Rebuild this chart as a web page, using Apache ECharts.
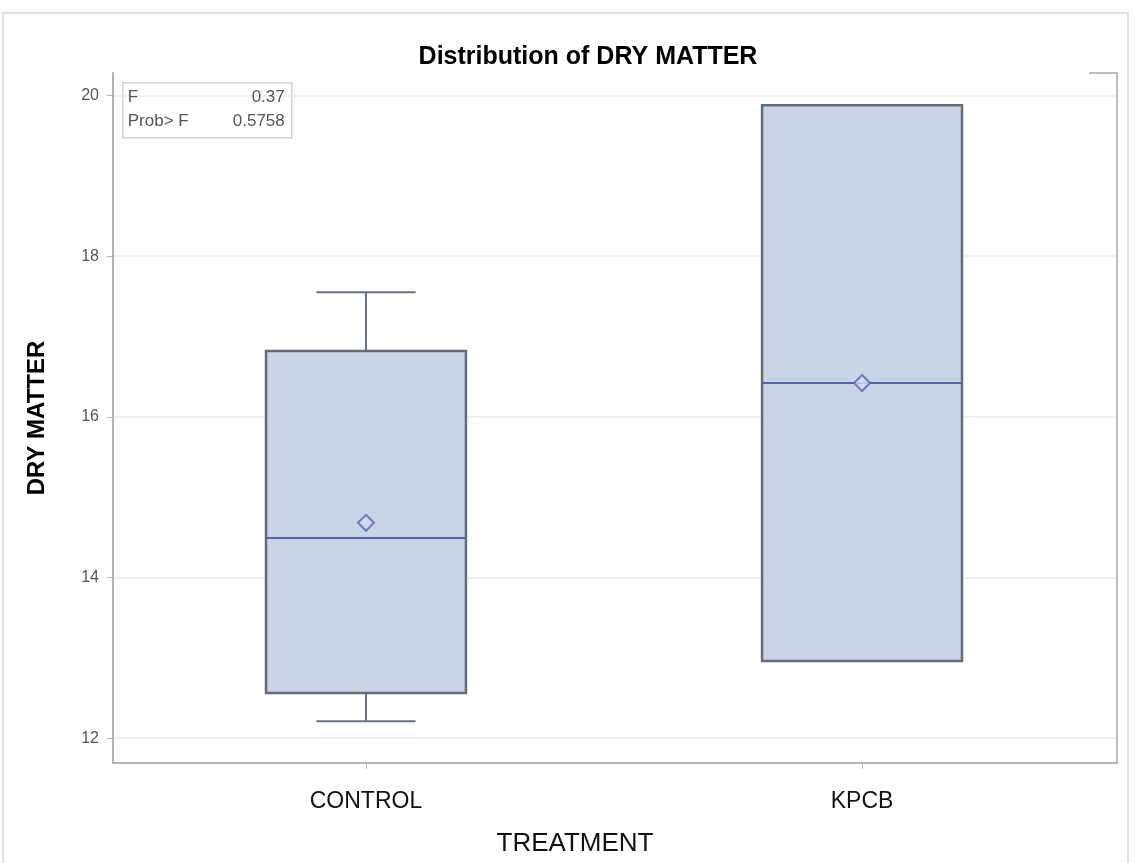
<!DOCTYPE html>
<html>
<head>
<meta charset="utf-8">
<title>Distribution of DRY MATTER</title>
<script src="https://cdn.jsdelivr.net/npm/echarts@6/dist/echarts.min.js"></script>
<style>
  html, body { margin: 0; padding: 0; background: #fff; }
  #chart { width: 1135px; height: 863px; }
</style>
</head>
<body>
<div id="chart"></div>
<script>
// Box plot summary per treatment
const categories = ['CONTROL', 'KPCB'];
const minVals    = [12.21, 12.96];
const q1Vals     = [12.56, 12.96];
const medianVals = [14.49, 16.42];
const q3Vals     = [16.82, 19.88];
const maxVals    = [17.55, 19.88];
const meanVals   = [14.68, 16.42];

// Y axis tick values
const yTicks = [12, 14, 16, 18, 20];

// ANOVA statistics shown in the inset
const fValue = '0.37';
const probValue = '0.5758';

const BOX_WIDTH = 0.403;   // in x-axis units
const CAP_WIDTH = 0.2;

const boxData = categories.map((c, i) =>
  [i + 1, minVals[i], q1Vals[i], medianVals[i], q3Vals[i], maxVals[i]]);
const meanData = categories.map((c, i) => [i + 1, meanVals[i]]);

function renderBox(params, api) {
  const x = api.value(0);
  const lo = api.coord([x, api.value(1)]);
  const q1 = api.coord([x, api.value(2)]);
  const md = api.coord([x, api.value(3)]);
  const q3 = api.coord([x, api.value(4)]);
  const hi = api.coord([x, api.value(5)]);
  const bw = api.size([BOX_WIDTH, 0])[0];
  const cw = api.size([CAP_WIDTH, 0])[0];
  const cx = lo[0];
  const whisker = { stroke: '#66708a', lineWidth: 2 };
  const children = [];
  if (hi[1] < q3[1] - 0.5) {
    children.push({ type: 'line', shape: { x1: cx, y1: q3[1], x2: cx, y2: hi[1] }, style: whisker });
    children.push({ type: 'line', shape: { x1: cx - cw / 2, y1: hi[1], x2: cx + cw / 2, y2: hi[1] }, style: whisker });
  }
  if (lo[1] > q1[1] + 0.5) {
    children.push({ type: 'line', shape: { x1: cx, y1: q1[1], x2: cx, y2: lo[1] }, style: whisker });
    children.push({ type: 'line', shape: { x1: cx - cw / 2, y1: lo[1], x2: cx + cw / 2, y2: lo[1] }, style: whisker });
  }
  children.push({
    type: 'rect',
    shape: { x: cx - bw / 2, y: q3[1], width: bw, height: q1[1] - q3[1] },
    style: { fill: '#c9d5e6', stroke: '#646b78', lineWidth: 2.5 }
  });
  children.push({
    type: 'line',
    shape: { x1: cx - bw / 2, y1: md[1], x2: cx + bw / 2, y2: md[1] },
    style: { stroke: '#5264a8', lineWidth: 2 }
  });
  return { type: 'group', children };
}

const chart = echarts.init(document.getElementById('chart'), null, { renderer: 'canvas' });

const labelFont = 'Liberation Sans Narrow, Liberation Sans, sans-serif';
const insetText = { fontFamily: 'Liberation Sans, sans-serif', fontSize: 17, fill: '#555', verticalAlign: 'top' };

chart.setOption({
  backgroundColor: '#ffffff',
  animation: false,
  title: {
    text: 'Distribution of DRY MATTER',
    left: 583,
    textAlign: 'center',
    top: 40,
    textStyle: {
      fontFamily: labelFont,
      fontWeight: 'bold',
      fontSize: 25,
      color: '#000'
    }
  },
  grid: { left: 113, right: 18, top: 73, bottom: 100, containLabel: false },
  xAxis: {
    type: 'value',
    min: 0.49,
    max: 2.514,
    name: 'TREATMENT',
    nameLocation: 'middle',
    nameGap: 68,
    nameTextStyle: {
      fontFamily: labelFont,
      fontSize: 26,
      color: '#111',
      padding: [0, 80, 0, 0]
    },
    axisLine: { show: true, lineStyle: { color: '#b4b4b4', width: 2 } },
    axisTick: { show: true, customValues: [1, 2], length: 6, lineStyle: { color: '#b4b4b4' } },
    axisLabel: {
      customValues: [1, 2],
      formatter: v => categories[Math.round(v) - 1] || '',
      margin: 27,
      fontFamily: labelFont,
      fontSize: 23,
      color: '#111'
    },
    splitLine: { show: false }
  },
  yAxis: [{
    type: 'value',
    min: 11.69,
    max: 20.28,
    name: 'DRY MATTER',
    nameLocation: 'middle',
    nameGap: 64,
    nameRotate: 90,
    nameTextStyle: {
      fontFamily: labelFont,
      fontWeight: 'bold',
      fontSize: 24,
      color: '#000'
    },
    axisLine: { show: true, lineStyle: { color: '#b4b4b4', width: 2 } },
    axisTick: { show: true, customValues: yTicks, length: 6, lineStyle: { color: '#b4b4b4' } },
    axisLabel: {
      customValues: yTicks,
      margin: 14,
      fontFamily: 'Liberation Sans, sans-serif',
      fontSize: 16,
      color: '#555'
    },
    splitLine: { show: true, lineStyle: { color: '#ececec', width: 1.5 } }
  }, {
    type: 'value',
    position: 'right',
    min: 11.69,
    max: 20.28,
    axisLine: { show: true, lineStyle: { color: '#bdbdbd', width: 2 } },
    axisTick: { show: false },
    axisLabel: { show: false },
    splitLine: { show: false }
  }],
  graphic: [
    // outer frame of the figure
    {
      type: 'rect',
      shape: { x: 3, y: 13, width: 1125, height: 860 },
      style: { fill: 'none', stroke: '#e2e2e2', lineWidth: 2 },
      silent: true
    },
    // stub of the top wall line at the right corner
    {
      type: 'line',
      shape: { x1: 1089, y1: 73, x2: 1117, y2: 73 },
      style: { stroke: '#bdbdbd', lineWidth: 2 },
      silent: true
    },
    // statistics inset
    {
      type: 'group',
      left: 122,
      top: 82,
      z: 100,
      children: [
        { type: 'rect', z2: 0, shape: { x: 0, y: 0, width: 169, height: 55 },
          style: { fill: '#fff', stroke: '#d4d4d4', lineWidth: 1.5 } },
        { type: 'text', z2: 5, x: 5, y: 6,
          style: Object.assign({ text: 'F' }, insetText) },
        { type: 'text', z2: 5, x: 162, y: 6,
          style: Object.assign({ text: fValue, align: 'right' }, insetText) },
        { type: 'text', z2: 5, x: 5, y: 30,
          style: Object.assign({ text: 'Prob> F' }, insetText) },
        { type: 'text', z2: 5, x: 162, y: 30,
          style: Object.assign({ text: probValue, align: 'right' }, insetText) }
      ]
    }
  ],
  series: [
    {
      type: 'custom',
      name: 'box',
      renderItem: renderBox,
      encode: { x: 0, y: [1, 2, 3, 4, 5] },
      data: boxData,
      z: 2
    },
    {
      type: 'scatter',
      name: 'mean',
      data: meanData,
      symbol: 'diamond',
      symbolSize: [16, 16],
      itemStyle: { color: '#d3dcf2', borderColor: '#5262b4', borderWidth: 2 },
      z: 3
    }
  ]
});
</script>
</body>
</html>
